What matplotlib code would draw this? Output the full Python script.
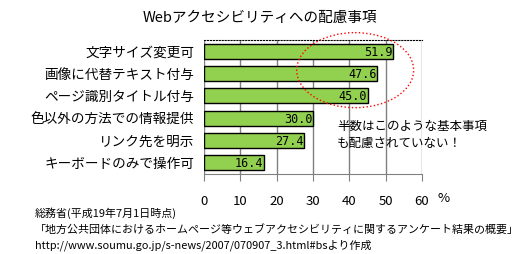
import matplotlib.pyplot as plt
from matplotlib.patches import Ellipse

plt.rcParams['font.family'] = ['Noto Sans CJK JP', 'DejaVu Sans']

categories = ['文字サイズ変更可', '画像に代替テキスト付与', 'ページ識別タイトル付与',
              '色以外の方法での情報提供', 'リンク先を明示', 'キーボードのみで操作可']
values = [51.9, 47.6, 45.0, 30.0, 27.4, 16.4]
xticks = [0, 10, 20, 30, 40, 50, 60]
title = 'Webアクセシビリティへの配慮事項'
note = '半数はこのような基本事項\nも配慮されていない！'
source = ['総務省(平成19年7月1日時点)',
          '「地方公共団体におけるホームページ等ウェブアクセシビリティに関するアンケート結果の概要」',
          'http://www.soumu.go.jp/s-news/2007/070907_3.html#bsより作成']

fig = plt.figure(figsize=(5.21, 2.54), dpi=100)
ax = fig.add_axes([204 / 521, 1 - 174 / 254, 218 / 521, 134 / 254])

y = list(range(len(categories)))
ax.barh(y, values, height=0.67, color='#92D050', edgecolor='black', linewidth=1, zorder=3)
for yi, v in zip(y, values):
    ax.text(v - 0.1, yi + 0.05, f'{v:.1f}', ha='right', va='center',
            fontsize=8.5, family='DejaVu Sans Mono', zorder=4)

ax.set_xlim(0, 60)
ax.set_ylim(5.5, -0.5)
ax.set_xticks(xticks)
ax.set_xticklabels([str(t) for t in xticks], fontsize=9.5)
ax.set_yticks(y)
ax.set_yticklabels(categories, fontsize=9.8)
ax.tick_params(axis='y', length=0, pad=7)
ax.tick_params(axis='x', length=5, color='#808080', pad=10)
ax.xaxis.grid(True, color='#808080', linewidth=1)
ax.set_axisbelow(True)

ax.spines['left'].set_visible(False)
ax.spines['right'].set_visible(False)
ax.spines['bottom'].set_color('#808080')
ax.spines['top'].set_linestyle(':')
ax.spines['top'].set_color('black')

fig.text(437 / 521, 1 - 199 / 254, '%', fontsize=9.5, va='center', ha='left')
fig.text(260 / 521, 1 - 18 / 254, title, fontsize=10.5, ha='center', va='center')

ell = Ellipse((41.6, 0.85), width=32.2, height=3.36, fill=False, edgecolor='red',
              linestyle=':', linewidth=1, clip_on=False, zorder=5)
ax.add_patch(ell)

fig.text(337 / 521, 1 - 135 / 254, note, fontsize=9, ha='left', va='center', linespacing=1.35)

for i, line in enumerate(source):
    fig.text(35 / 521, 1 - (213 + 16 * i) / 254, line, fontsize=7.9, ha='left', va='center')

fig.savefig('out.png', dpi=100)
